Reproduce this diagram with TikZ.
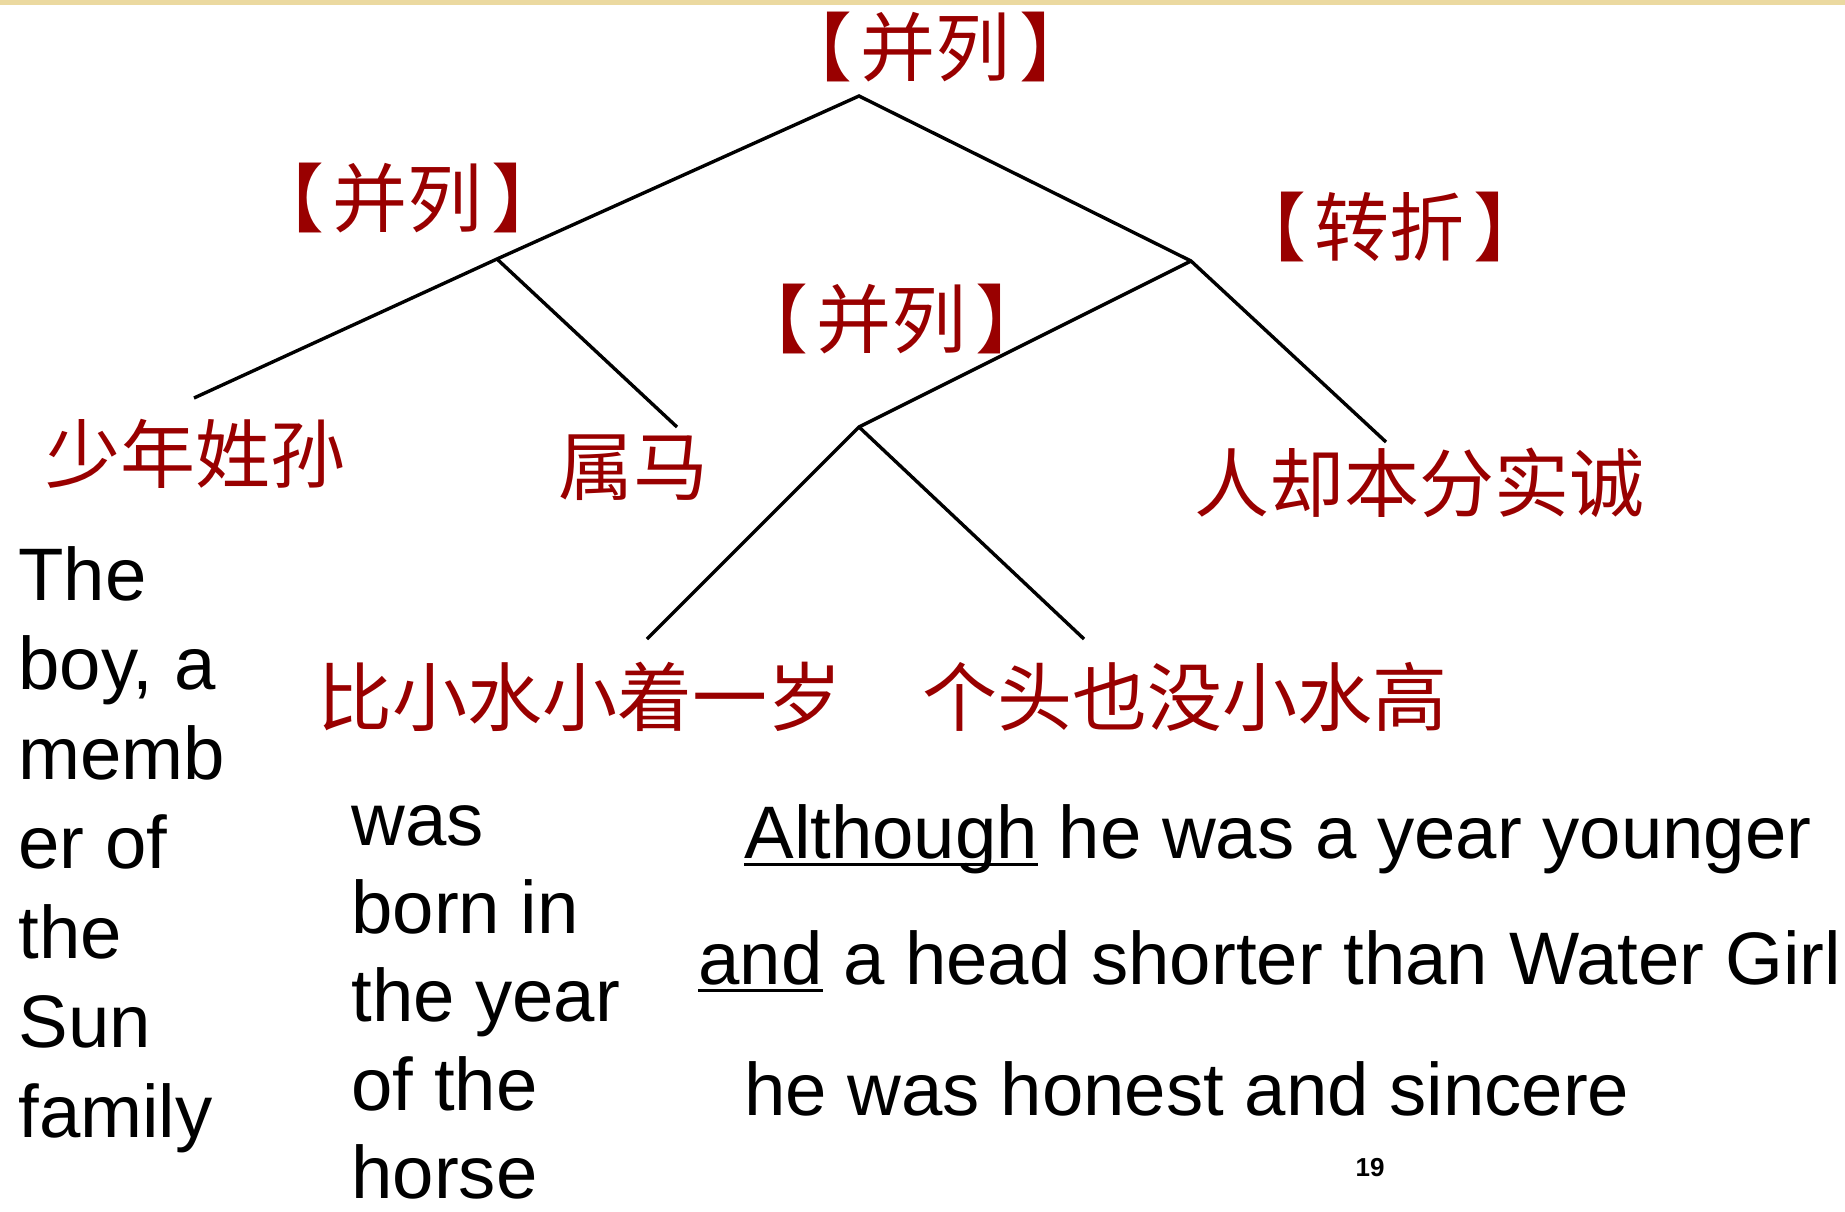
\documentclass[tikz,border=0pt]{standalone}
\usepackage{fontspec}
\setmainfont{Liberation Sans}
\newfontfamily\cjk{Noto Sans CJK SC}
\definecolor{dred}{RGB}{153,0,0}
\definecolor{band}{RGB}{235,217,160}
\newcommand\myul[1]{\setbox0\hbox{#1}\rlap{\rule[-0.11em]{\wd0}{0.045em}}\box0\relax}
\newcommand\brk[1]{【\kern0.12em#1\kern0.12em】}
\begin{document}
\begin{tikzpicture}[x=0.5pt,y=-0.5pt,
 branch/.style={line width=1.7pt, black},
 rel/.style={text=dred, font=\cjk\fontsize{37.5}{45}\selectfont, inner sep=0pt},
 eng/.style={anchor=base west, inner sep=0pt, font=\fontsize{37.2}{45}\selectfont},
]
\useasboundingbox (0,0) rectangle (1845,1211);
\fill[band] (0,0) rectangle (1845,5);
% tree
\coordinate (root) at (859,96);
\coordinate (lft) at (497,259);
\coordinate (rgt) at (1191,261);
\coordinate (mid) at (859,427);
\coordinate (e1) at (194,398);
\coordinate (e2) at (677,427);
\coordinate (e3) at (1386,442);
\coordinate (e4) at (647,639);
\coordinate (e5) at (1084,639);
\draw[branch] (e1) -- (lft) -- (root) -- (rgt) -- (e3);
\draw[branch] (lft) -- (e2);
\draw[branch] (rgt) -- (mid) -- (e4);
\draw[branch] (mid) -- (e5);
% relation labels
\node[rel] (r0) at (936,47) {\brk{并列}};
\node[rel] (r1) at (408,198) {\brk{并列}};
\node[rel] (r2) at (1390,227) {\brk{转折}};
\node[rel] (r3) at (892,319) {\brk{并列}};
% leaves
\node[rel] (t1) at (195,454) {少年姓孙};
\node[rel] (t2) at (633,468) {属马};
\node[rel] (t3) at (1419,483) {人却本分实诚};
\node[rel] (t4) at (580,697) {比小水小着一岁};
\node[rel] (t5) at (1185,697) {个头也没小水高};
% english left column
\node[eng] (a1) at (18,600) {The};
\node[eng] (a2) at (18,689.5) {boy, a};
\node[eng] (a3) at (18,779) {memb};
\node[eng] (a4) at (18,868.5) {er of};
\node[eng] (a5) at (18,958) {the};
\node[eng] (a6) at (18,1047) {Sun};
\node[eng] (a7) at (18,1137) {family};
% english middle column
\node[eng] (b1) at (351,845) {was};
\node[eng] (b2) at (351,933) {born in};
\node[eng] (b3) at (351,1021) {the year};
\node[eng] (b4) at (351,1110) {of the};
\node[eng] (b5) at (351,1198) {horse};
% english right column
\node[eng] (c1) at (744,858) {\myul{Although} he was a year younger};
\node[eng] (c2) at (698,984) {\myul{and} a head shorter than Water Girl};
\node[eng] (c3) at (744,1115) {he was honest and sincere};
% page number
\node[inner sep=0pt, font=\bfseries\fontsize{13}{15}\selectfont] (pg) at (1370,1168) {19};
\end{tikzpicture}
\end{document}
